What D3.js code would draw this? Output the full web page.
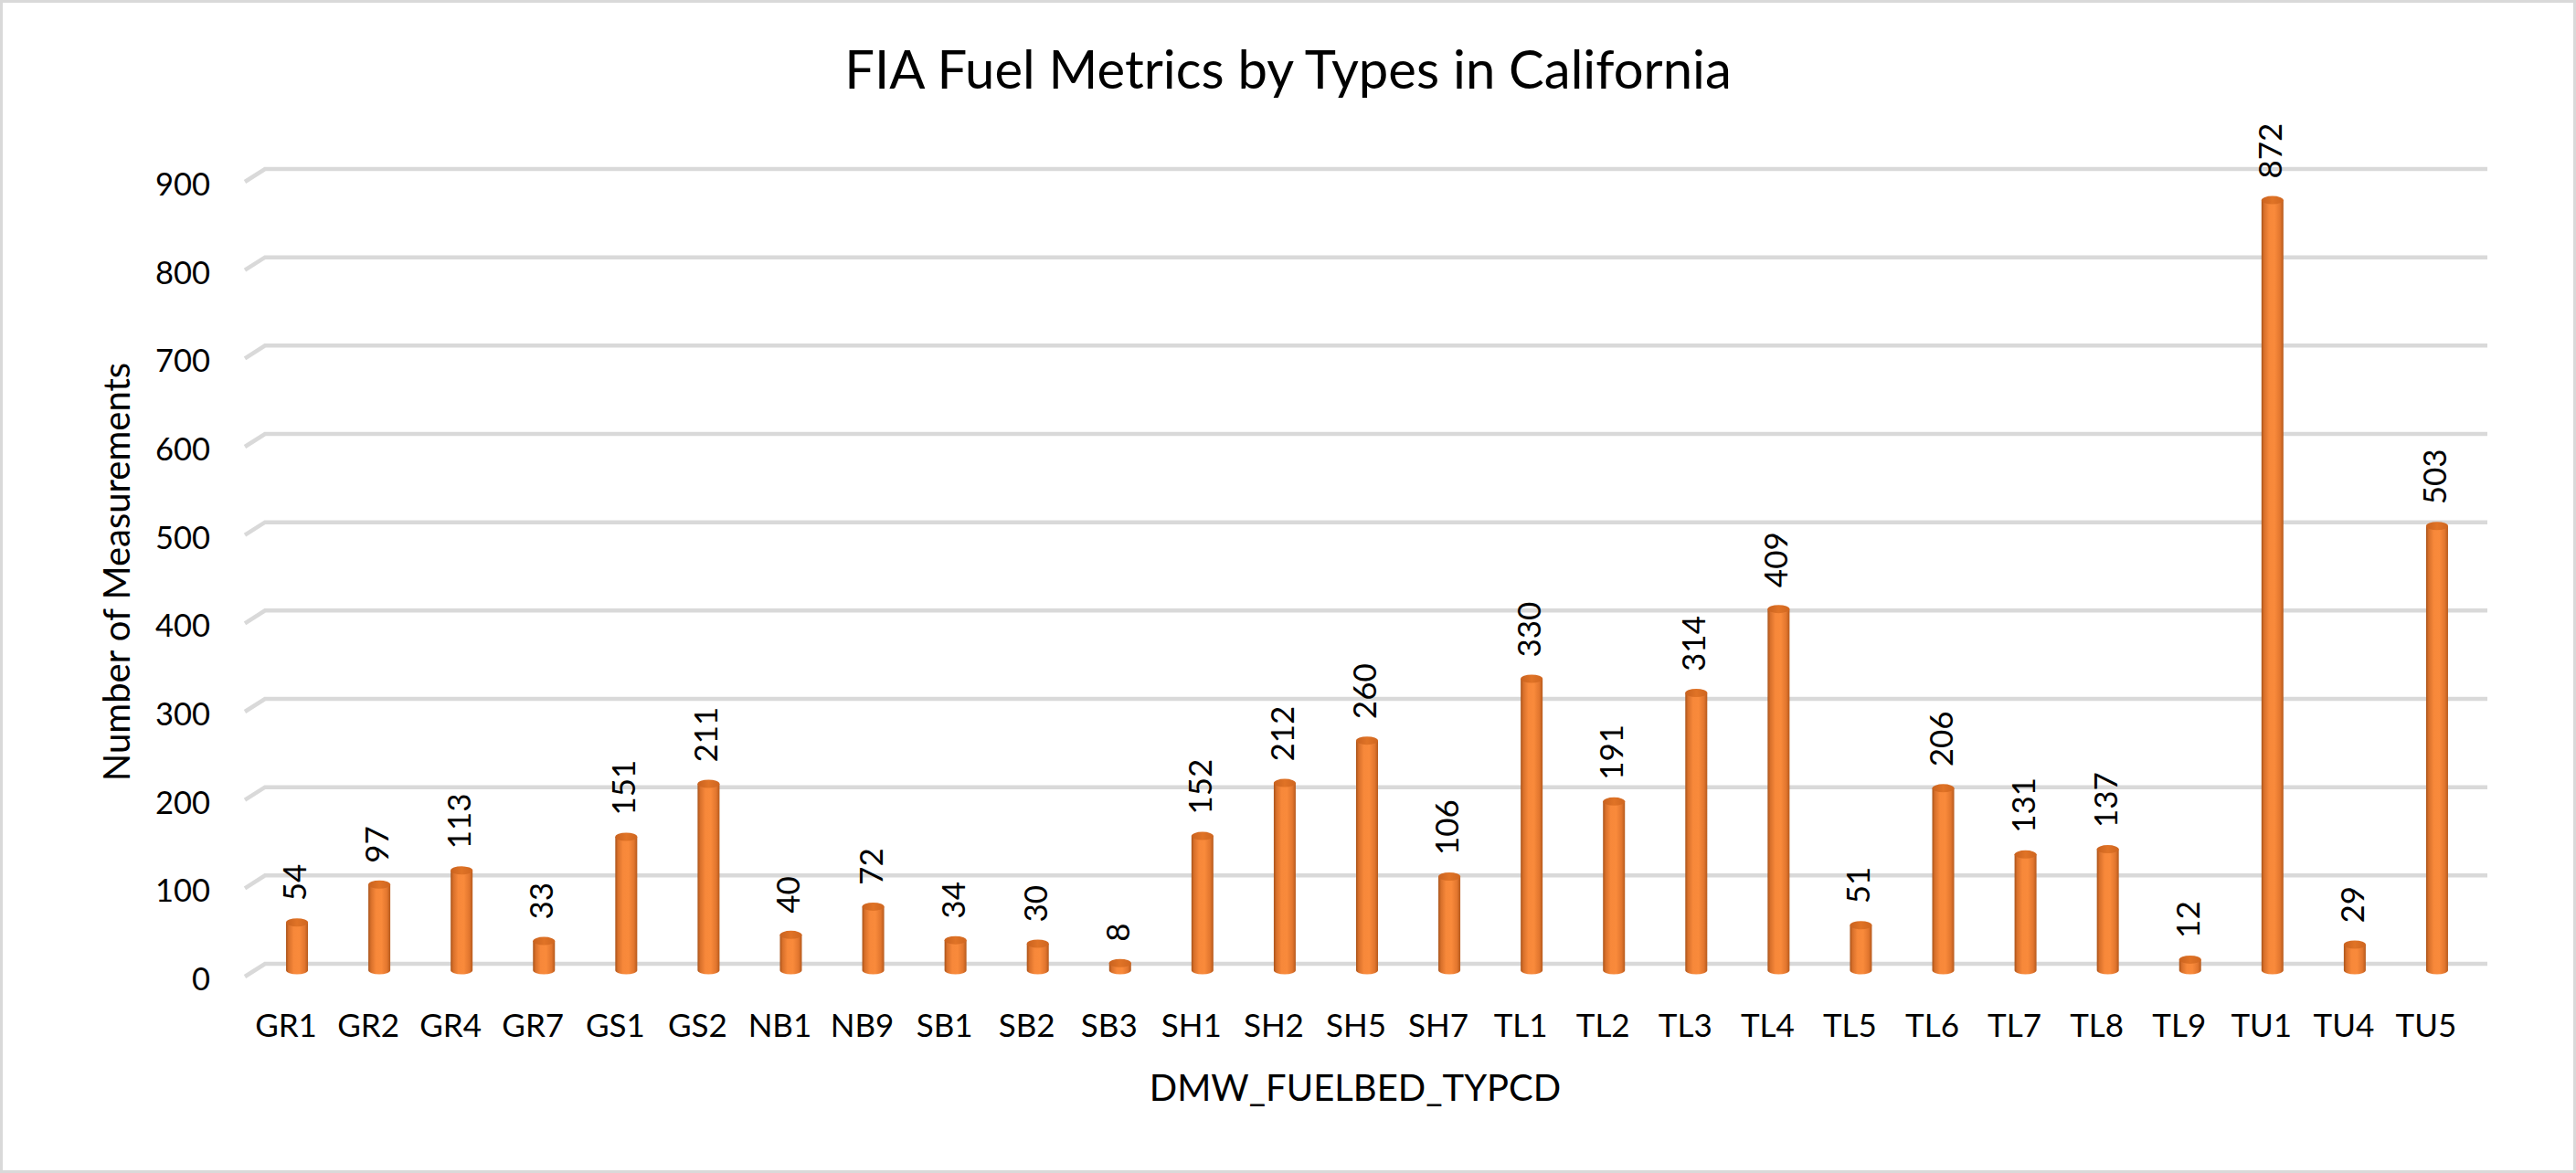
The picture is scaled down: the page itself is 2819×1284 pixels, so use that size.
<!DOCTYPE html>
<html>
<head>
<meta charset="utf-8">
<script src="https://cdn.jsdelivr.net/npm/d3@7"></script>
<style>
  html, body { margin: 0; padding: 0; background: #fff; }
  svg { display: block; font-family: Lato, sans-serif; }
</style>
</head>
<body>
<svg id="chart" width="2819" height="1284"></svg>
<script>
'use strict';

// ── data ─────────────────────────────────────────────
const categories = ['GR1', 'GR2', 'GR4', 'GR7', 'GS1', 'GS2', 'NB1', 'NB9', 'SB1', 'SB2', 'SB3',
  'SH1', 'SH2', 'SH5', 'SH7', 'TL1', 'TL2', 'TL3', 'TL4', 'TL5', 'TL6', 'TL7', 'TL8', 'TL9',
  'TU1', 'TU4', 'TU5'];
const counts = [54, 97, 113, 33, 151, 211, 40, 72, 34, 30, 8,
  152, 212, 260, 106, 330, 191, 314, 409, 51, 206, 131, 137, 12,
  872, 29, 503];
const yTicks = [0, 100, 200, 300, 400, 500, 600, 700, 800, 900];

const TITLE  = 'FIA Fuel Metrics by Types in California';
const XTITLE = 'DMW_FUELBED_TYPCD';
const YTITLE = 'Number of Measurements';

// ── layout ───────────────────────────────────────────
const W = 2819, H = 1284;
const DEPTH = { dx: 22, dy: -14 };   // front plane -> back wall offset (3D look)

const svg = d3.select('#chart');

// front plane scales; back wall and bars are offset by DEPTH
const x = d3.scaleBand().domain(categories).range([268, 2700]).padding(0);
const y = d3.scaleLinear().domain([0, 900]).range([1069, 199]);

const backX = v => v + DEPTH.dx;
const backY = v => y(v) + DEPTH.dy;

// chart border
svg.append('rect')
  .attr('x', 1.5).attr('y', 1.5)
  .attr('width', W - 3).attr('height', H - 3)
  .attr('fill', '#fff').attr('stroke', '#d9d9d9').attr('stroke-width', 3);

// gradient for the cylinders
const defs = svg.append('defs');
const grad = defs.append('linearGradient').attr('id', 'cyl')
  .attr('x1', '0%').attr('x2', '100%').attr('y1', '0%').attr('y2', '0%');
[[0, '#a9531a'], [0.12, '#d8702b'], [0.35, '#f7883a'], [0.6, '#f98a3b'],
 [0.85, '#e2762e'], [1, '#b65a1d']].forEach(([o, c]) => {
  grad.append('stop').attr('offset', o).attr('stop-color', c);
});
const capGrad = defs.append('linearGradient').attr('id', 'cap')
  .attr('x1', '0%').attr('x2', '100%').attr('y1', '0%').attr('y2', '0%');
[[0, '#c9621f'], [0.5, '#e07326'], [1, '#cf6620']].forEach(([o, c]) => {
  capGrad.append('stop').attr('offset', o).attr('stop-color', c);
});

// ── gridlines on the back wall, with side-wall stubs ─
const grid = svg.append('g').attr('stroke', '#d9d9d9').attr('fill', 'none');
yTicks.forEach(t => {
  grid.append('path')
    .attr('stroke-width', 4.5)
    .attr('d', `M${x.range()[0]},${y(t)} L${backX(x.range()[0])},${backY(t)} L${backX(x.range()[1])},${backY(t)}`)
    .attr('stroke-linejoin', 'miter');
});

// y tick labels
svg.append('g')
  .selectAll('text')
  .data(yTicks)
  .join('text')
  .attr('x', 230)
  .attr('y', d => y(d) + 15)
  .attr('text-anchor', 'end')
  .attr('font-size', 34.5)
  .attr('fill', '#000')
  .text(d => d);

// ── bars (cylinders sitting at half depth) ───────────
const BW = 24, RY = 4.5;
const bars = svg.append('g');
categories.forEach((c, i) => {
  const cx = x(c) + x.bandwidth() / 2 + DEPTH.dx / 2 + 1;
  const yb = y(0) + DEPTH.dy / 2;
  const yt = y(counts[i]) + DEPTH.dy / 2;
  const l = cx - BW / 2, r = cx + BW / 2;

  bars.append('path')
    .attr('d', `M${l},${yt} L${l},${yb} A${BW / 2},${RY} 0 0 0 ${r},${yb} L${r},${yt} Z`)
    .attr('fill', 'url(#cyl)');

  bars.append('ellipse')
    .attr('cx', cx).attr('cy', yt)
    .attr('rx', BW / 2).attr('ry', RY)
    .attr('fill', 'url(#cap)');

  // value label, rotated
  bars.append('text')
    .attr('transform', `translate(${cx + 10},${yt - RY - 19}) rotate(-90)`)
    .attr('text-anchor', 'start')
    .attr('font-size', 35)
    .attr('fill', '#000')
    .text(counts[i]);
});

// category labels on the front edge
svg.append('g')
  .selectAll('text')
  .data(categories)
  .join('text')
  .attr('x', d => x(d) + x.bandwidth() / 2)
  .attr('y', 1135)
  .attr('text-anchor', 'middle')
  .attr('font-size', 35)
  .attr('fill', '#000')
  .text(d => d);

// ── titles ───────────────────────────────────────────
svg.append('text')
  .attr('x', W / 2).attr('y', 97)
  .attr('text-anchor', 'middle')
  .attr('font-size', 58)
  .attr('fill', '#000')
  .text(TITLE);

svg.append('text')
  .attr('x', 1483).attr('y', 1205)
  .attr('text-anchor', 'middle')
  .attr('font-size', 40)
  .attr('fill', '#000')
  .text(XTITLE);

svg.append('text')
  .attr('transform', `translate(142,${(y(0) + y(900)) / 2 - 8}) rotate(-90)`)
  .attr('text-anchor', 'middle')
  .attr('font-size', 40)
  .attr('fill', '#000')
  .text(YTITLE);
</script>
</body>
</html>
